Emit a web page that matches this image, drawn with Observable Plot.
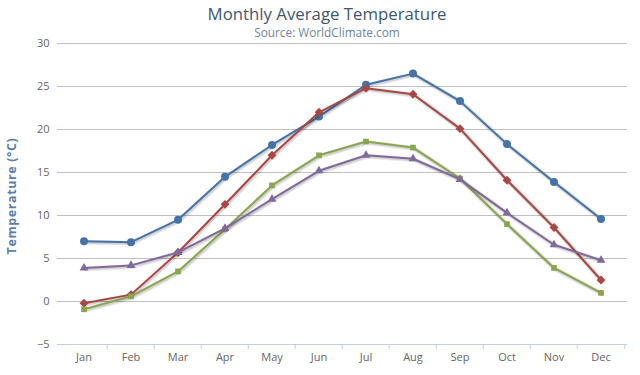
<!DOCTYPE html>
<html><head><meta charset="utf-8">
<script src="https://cdn.jsdelivr.net/npm/d3@7"></script>
<script src="https://cdn.jsdelivr.net/npm/@observablehq/plot@0.6"></script>
<style>
body{margin:0;background:#fff;font-family:"Open Sans",sans-serif;}
#c{position:relative;width:640px;height:375px;}
</style></head>
<body><div id="c"></div>
<script>
const months = ["Jan","Feb","Mar","Apr","May","Jun","Jul","Aug","Sep","Oct","Nov","Dec"];
const tokyo   = [7.0, 6.9, 9.5, 14.5, 18.2, 21.5, 25.2, 26.5, 23.3, 18.3, 13.9, 9.6];
const newYork = [-0.2, 0.8, 5.7, 11.3, 17.0, 22.0, 24.8, 24.1, 20.1, 14.1, 8.6, 2.5];
const berlin  = [-0.9, 0.6, 3.5, 8.4, 13.5, 17.0, 18.6, 17.9, 14.3, 9.0, 3.9, 1.0];
const london  = [3.9, 4.2, 5.7, 8.5, 11.9, 15.2, 17.0, 16.6, 14.2, 10.3, 6.6, 4.8];
const yTicks = [-5, 0, 5, 10, 15, 20, 25, 30];

const series = [
  {name:"Tokyo", values:tokyo, color:"#4572A7", symbol:"circle", r:4},
  {name:"New York", values:newYork, color:"#AA4643", symbol:"diamond2", r:4},
  {name:"Berlin", values:berlin, color:"#89A54E", symbol:"square2", r:3.6},
  {name:"London", values:london, color:"#80699B", symbol:"triangle2", r:4.2}
];
const bw = 47.5;

const marks = [
  Plot.ruleY(yTicks.filter(d => d !== -5), {stroke:"#C0C0C0", strokeWidth:1}),
  Plot.ruleY([-5], {stroke:"#C0D0E0", strokeWidth:1}),
  Plot.ruleX(months.slice(1), {x:d=>d, dx:-bw/2, y1:-5, y2:-5.6, stroke:"#C0D0E0"}),
  Plot.ruleX(months.slice(-1), {x:d=>d, dx:bw/2, y1:-5, y2:-5.6, stroke:"#C0D0E0"}),
  Plot.axisY({ticks:yTicks, tickSize:0, tickPadding:8, fontSize:11, color:"#666", label:null}),
  Plot.axisX({tickSize:0, tickPadding:9, fontSize:11, color:"#666", label:null}),
];
for (const s of series) {
  const data = months.map((m,i)=>({m, v:s.values[i]}));
  marks.push(Plot.line(data, {x:"m", y:"v", stroke:"#000", strokeOpacity:0.08, strokeWidth:5, dx:1, dy:1}));
  marks.push(Plot.line(data, {x:"m", y:"v", stroke:"#000", strokeOpacity:0.1, strokeWidth:3, dx:1, dy:1}));
  marks.push(Plot.line(data, {x:"m", y:"v", stroke:s.color, strokeWidth:2}));
  marks.push(Plot.dot(data, {x:"m", y:"v", fill:s.color, stroke:"none", symbol:()=>s.symbol, r:s.r}));
}

const chart = Plot.plot({
  width:640, height:375,
  marginLeft:57, marginRight:13, marginTop:43, marginBottom:31,
  style:{fontFamily:"'Open Sans', sans-serif", background:"#fff", overflow:"visible"},
  x:{type:"band", domain:months, padding:0, axis:null},
  y:{domain:[-5,30], axis:null},
  symbol:{type:"identity"},
  marks
});
document.getElementById("c").appendChild(chart);

const svg = d3.select(chart);
svg.append("text").attr("x",327).attr("y",19.5).attr("text-anchor","middle")
  .attr("fill","#3E576F").style("font-size","16.8px")
  .text("Monthly Average Temperature");
svg.append("text").attr("x",327).attr("y",37).attr("text-anchor","middle")
  .attr("fill","#6D869F").style("font-size","11.8px")
  .text("Source: WorldClimate.com");
svg.append("text").attr("transform","translate(16,196) rotate(-90)").attr("text-anchor","middle")
  .attr("fill","#5A7FA8").style("font-size","12.5px").style("font-weight","bold").style("letter-spacing","0.6px")
  .text("Temperature (°C)");
</script></body></html>
